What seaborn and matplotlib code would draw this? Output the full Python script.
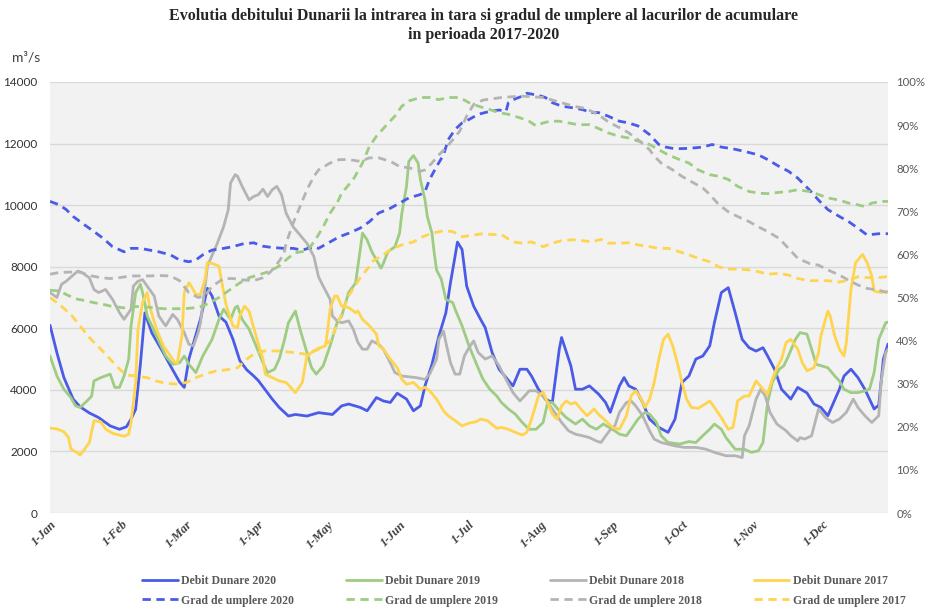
import matplotlib
matplotlib.use("Agg")
import matplotlib.pyplot as plt
import seaborn as sns
from matplotlib.ticker import FuncFormatter

# x axis: day of year (0 = 1-Jan)
month_days = [0, 31, 59, 90, 120, 151, 181, 212, 243, 273, 304, 334]
month_labels = ['1-Jan', '1-Feb', '1-Mar', '1-Apr', '1-May', '1-Jun',
                '1-Jul', '1-Aug', '1-Sep', '1-Oct', '1-Nov', '1-Dec']

# Debit Dunare (m3/s)
d2020_days = [0, 3, 6, 10, 13, 17, 21, 26, 30, 33, 35, 37, 39, 41, 44, 49, 53, 56, 58, 60, 65, 68, 70, 73, 76,
              79, 82, 85, 88, 90, 93, 96, 99, 103, 106, 111, 116, 122, 126, 129, 134, 137, 141, 144, 147, 150,
              154, 157, 160, 162, 165, 168, 171, 173, 175, 176, 178, 180, 183, 186, 188, 191, 194, 197, 200,
              203, 206, 208, 211, 214, 217, 220, 221, 225, 227, 230, 233, 237, 240, 242, 246, 248, 250, 253,
              256, 259, 263, 267, 270, 273, 276, 279, 282, 285, 287, 290, 293, 296, 299, 302, 305, 308, 310,
              313, 316, 320, 323, 327, 330, 333, 336, 341, 343, 346, 349, 352, 356, 358, 360, 362]
d2020_flow = [6100, 5200, 4400, 3700, 3450, 3250, 3100, 2830, 2720, 2800, 3050, 3370, 4800, 6500, 5850, 5200,
              4650, 4250, 4080, 5000, 6300, 7300, 7050, 6400, 6200, 5650, 4950, 4650, 4450, 4300, 4000, 3700,
              3430, 3150, 3200, 3150, 3260, 3200, 3480, 3540, 3430, 3320, 3750, 3640, 3590, 3890, 3700, 3320,
              3480, 4130, 4830, 5750, 6500, 7480, 8350, 8800, 8560, 7370, 6720, 6290, 6020, 5210, 4670, 4400,
              4130, 4670, 4670, 4450, 4020, 3700, 3590, 5320, 5700, 4780, 4020, 4020, 4130, 3860, 3590, 3270,
              4130, 4400, 4130, 4020, 3590, 3050, 2780, 2620, 3050, 4240, 4450, 5000, 5100, 5430, 6180, 7160,
              7320, 6500, 5640, 5370, 5260, 5370, 5100, 4670, 4020, 3700, 4080, 3900, 3540, 3430, 3160, 4020,
              4450, 4670, 4400, 4020, 3380, 3500, 5000, 5490]

d2019_days = [0, 3, 6, 9, 11, 13, 16, 18, 19, 22, 26, 28, 30, 32, 34, 35, 37, 39, 40, 42, 46, 50, 53, 56, 58,
              60, 63, 66, 70, 73, 75, 78, 80, 81, 83, 86, 89, 92, 94, 97, 99, 101, 103, 106, 108, 111, 113, 115,
              118, 121, 124, 126, 129, 132, 135, 137, 139, 141, 143, 144, 146, 147, 149, 151, 152, 154, 155,
              157, 159, 160, 162, 163, 165, 166, 167, 169, 171, 174, 175, 178, 181, 184, 187, 190, 193, 195,
              198, 201, 204, 207, 210, 213, 215, 217, 220, 223, 227, 230, 233, 236, 239, 243, 246, 249, 251,
              254, 257, 259, 262, 264, 267, 272, 276, 279, 282, 285, 287, 290, 292, 296, 300, 303, 306, 308,
              310, 312, 315, 317, 319, 322, 324, 327, 329, 331, 336, 339, 341, 343, 346, 349, 352, 354, 356,
              358, 361, 362]
d2019_flow = [5100, 4450, 4020, 3750, 3480, 3430, 3640, 3800, 4290, 4400, 4510, 4080, 4080, 4450, 5000, 6080,
              7160, 7430, 7160, 6400, 5750, 5100, 4830, 4880, 5100, 4830, 4560, 5100, 5640, 6290, 6620, 6290,
              6670, 6720, 6290, 5970, 5430, 4880, 4560, 4670, 5000, 5540, 6180, 6560, 5970, 5210, 4720, 4510,
              4780, 5430, 6180, 6400, 7160, 7470, 9090, 8870, 8490, 8220, 7950, 8110, 8490, 8540, 8650, 9090,
              9740, 10610, 11420, 11610, 11370, 10830, 10170, 9630, 9090, 8430, 7890, 7600, 6940, 6830, 6620,
              6080, 5430, 4880, 4350, 4020, 3800, 3590, 3380, 3210, 2940, 2720, 2720, 2940, 3590, 3590, 3320,
              3100, 2890, 3050, 2830, 2720, 2890, 2720, 2560, 2510, 2720, 3050, 3270, 3210, 2940, 2510, 2290,
              2240, 2320, 2290, 2510, 2720, 2890, 2720, 2450, 2070, 2070, 1970, 2020, 2290, 3590, 4240, 4670,
              4780, 5100, 5640, 5860, 5810, 5320, 4830, 4720, 4450, 4290, 4020, 3910, 3910, 3970, 4020, 4560,
              5640, 6180, 6200]

d2018_days = [0, 3, 5, 7, 12, 14, 17, 19, 21, 24, 27, 30, 32, 35, 36, 38, 40, 42, 45, 47, 49, 50, 53, 55, 58,
              60, 62, 64, 65, 67, 68, 72, 75, 77, 78, 80, 81, 83, 86, 88, 90, 92, 94, 96, 98, 100, 102, 105,
              108, 111, 114, 116, 118, 121, 122, 124, 126, 129, 131, 133, 135, 137, 139, 142, 144, 147, 149,
              152, 158, 162, 164, 167, 168, 170, 171, 173, 175, 177, 179, 181, 183, 185, 188, 191, 194, 197,
              200, 203, 205, 207, 210, 213, 216, 218, 221, 224, 227, 230, 233, 236, 238, 240, 242, 244, 246,
              249, 251, 253, 256, 259, 261, 264, 270, 274, 279, 283, 287, 292, 296, 299, 300, 302, 305, 307,
              309, 311, 314, 318, 320, 323, 324, 326, 329, 332, 335, 338, 341, 344, 347, 349, 352, 355, 358,
              359, 361, 362]
d2018_flow = [7160, 7000, 7430, 7530, 7860, 7800, 7640, 7260, 7160, 7260, 6940, 6510, 6290, 6620, 7370, 7530,
              7580, 7370, 7050, 6400, 6180, 6080, 6450, 6290, 5860, 5480, 5430, 5860, 6180, 7370, 8020, 8710,
              9300, 9850, 10720, 10990, 10940, 10610, 10170, 10280, 10340, 10520, 10280, 10500, 10610, 10340,
              9740, 9300, 9030, 8760, 8330, 7670, 7370, 6940, 6400, 6240, 6180, 6240, 5970, 5540, 5320, 5320,
              5590, 5480, 5320, 4880, 4560, 4450, 4400, 4340, 4510, 5000, 5640, 5910, 5540, 4880, 4510, 4510,
              5100, 5370, 5590, 5210, 5000, 5100, 4780, 4340, 3910, 3640, 3800, 3970, 3970, 3800, 3480, 3270,
              2940, 2670, 2560, 2510, 2450, 2340, 2290, 2500, 2700, 2830, 3270, 3590, 3640, 3480, 3160, 2670,
              2400, 2290, 2180, 2130, 2130, 2080, 1970, 1860, 1860, 1800, 2510, 2830, 3700, 4020, 3800, 3270,
              2890, 2670, 2510, 2340, 2450, 2400, 2510, 3380, 3100, 2940, 3050, 3270, 3700, 3430, 3160, 2940,
              3160, 4240, 5210, 5320]

d2017_days = [0, 3, 6, 8, 9, 12, 13, 15, 17, 19, 22, 24, 27, 30, 32, 34, 35, 37, 38, 40, 42, 43, 46, 49, 52,
              54, 55, 57, 58, 60, 61, 63, 65, 67, 68, 70, 73, 74, 76, 79, 81, 82, 84, 86, 89, 92, 93, 96, 99,
              102, 104, 106, 109, 111, 114, 116, 119, 120, 121, 123, 124, 126, 129, 132, 133, 135, 138, 141,
              142, 144, 147, 150, 152, 154, 157, 160, 162, 164, 167, 170, 172, 175, 178, 181, 184, 186, 189,
              193, 195, 198, 201, 204, 206, 208, 211, 213, 215, 217, 219, 221, 223, 225, 227, 230, 232, 235,
              237, 240, 243, 246, 249, 251, 253, 255, 257, 259, 261, 263, 265, 267, 269, 271, 273, 275, 277,
              280, 283, 285, 287, 290, 293, 295, 296, 297, 300, 302, 304, 305, 308, 310, 312, 314, 316, 318,
              320, 323, 325, 327, 330, 332, 333, 336, 337, 339, 341, 343, 344, 346, 348, 351, 353, 355, 356,
              359, 362]
d2017_flow = [2760, 2730, 2640, 2450, 2080, 1950, 1880, 2080, 2290, 3000, 2960, 2730, 2590, 2530, 2490, 2560,
              2940, 4240, 5970, 6830, 7160, 6720, 5970, 5430, 5100, 4880, 4880, 5750, 7160, 7480, 7370, 7100,
              7100, 7590, 8130, 8110, 8020, 7590, 6780, 6080, 6020, 6400, 6720, 6560, 5750, 5000, 4510, 4400,
              4290, 4240, 4080, 3910, 4240, 5100, 5270, 5350, 5430, 5970, 6620, 7050, 7050, 6720, 6670, 6510,
              6560, 6290, 6080, 5810, 5430, 5320, 5000, 4720, 4340, 4180, 4240, 4020, 4080, 3970, 3700, 3320,
              3160, 3000, 2830, 2920, 2960, 3050, 3000, 2750, 2780, 2720, 2620, 2530, 2620, 3050, 3800, 3930,
              3590, 3210, 3050, 3480, 3640, 3540, 3590, 3320, 3160, 3380, 3200, 3000, 2780, 2720, 3160, 3800,
              3970, 3750, 3430, 3700, 4240, 5000, 5640, 5810, 5430, 4880, 4240, 3700, 3430, 3400, 3540, 3640,
              3430, 3100, 2720, 2780, 3160, 3640, 3800, 3800, 4130, 4290, 4020, 3860, 4340, 4720, 5000, 5540,
              5640, 5320, 4880, 4620, 4720, 5210, 5750, 6560, 6400, 5750, 5320, 5100, 5540, 7260, 8130, 8400,
              8130, 7700, 7210, 7160, 7210]

# Grad de umplere (%)
g2020_days = [0, 4, 7, 10, 14, 19, 23, 27, 32, 35, 39, 43, 47, 52, 56, 60, 63, 66, 70, 75, 79, 83, 88, 92, 96,
              101, 105, 109, 114, 116, 121, 125, 129, 134, 138, 142, 147, 151, 155, 160, 162, 164, 167, 170,
              172, 175, 178, 181, 185, 190, 194, 197, 198, 201, 204, 206, 208, 211, 214, 217, 221, 226, 230,
              234, 237, 241, 246, 250, 254, 259, 263, 266, 270, 276, 282, 286, 290, 295, 300, 306, 310, 315,
              319, 323, 328, 332, 336, 341, 345, 349, 353, 358, 362]
g2020_pct = [72.3, 71.5, 70.4, 68.8, 67.2, 65.3, 63.7, 61.8, 60.6, 61.4, 61.4, 61.0, 60.6, 59.9, 58.7, 58.3,
             58.7, 59.9, 61.0, 61.4, 61.8, 62.4, 62.7, 61.9, 61.6, 61.4, 61.4, 61.0, 61.8, 61.4, 62.9, 64.1,
             64.9, 66.1, 67.6, 69.6, 70.7, 71.9, 73.1, 73.9, 74.6, 77.4, 80.4, 83.1, 86.6, 89.0, 90.5, 91.3,
             92.5, 93.2, 93.5, 93.2, 95.2, 96.1, 96.7, 97.4, 97.2, 96.9, 96.4, 95.2, 94.4, 94.0, 93.6, 92.9,
             92.9, 92.1, 90.9, 90.5, 89.8, 87.8, 85.5, 84.9, 84.5, 84.6, 84.9, 85.5, 84.9, 84.5, 83.9, 83.1,
             82.0, 80.4, 79.3, 77.7, 75.0, 72.6, 70.4, 68.8, 67.6, 66.1, 64.5, 64.8, 64.8]

g2019_days = [0, 4, 7, 11, 14, 19, 23, 27, 32, 36, 40, 45, 49, 53, 58, 62, 66, 69, 73, 78, 82, 86, 91, 95, 99,
              103, 106, 111, 112, 115, 118, 121, 124, 126, 131, 135, 138, 141, 145, 149, 152, 155, 160, 164,
              168, 172, 177, 181, 185, 190, 194, 198, 203, 207, 210, 213, 216, 220, 224, 228, 233, 237, 241,
              246, 250, 254, 259, 263, 267, 272, 276, 280, 285, 289, 293, 297, 302, 306, 310, 315, 319, 323,
              328, 332, 336, 341, 345, 349, 352, 355, 359, 362]
g2019_pct = [51.7, 51.5, 50.7, 49.7, 49.4, 48.8, 48.4, 47.9, 47.6, 47.9, 47.9, 47.6, 47.4, 47.4, 47.4, 47.6,
             48.0, 48.8, 50.0, 51.9, 53.4, 54.6, 55.4, 56.1, 57.3, 59.2, 60.4, 60.8, 61.4, 63.7, 66.4, 69.6,
             71.9, 74.2, 77.4, 81.2, 85.1, 87.4, 89.8, 92.1, 94.4, 95.6, 96.4, 96.4, 95.9, 96.4, 96.4, 95.2,
             94.4, 93.6, 92.9, 92.5, 91.7, 90.9, 89.8, 90.5, 90.9, 90.9, 90.5, 90.1, 90.1, 89.2, 88.2, 87.4,
             87.0, 86.3, 85.5, 84.3, 83.1, 82.0, 81.2, 79.6, 78.5, 78.1, 77.4, 75.8, 74.6, 74.2, 74.1, 74.4,
             74.6, 75.0, 74.6, 73.9, 73.1, 72.6, 71.9, 71.5, 71.1, 71.9, 72.3, 72.3]

g2018_days = [0, 4, 9, 13, 17, 22, 26, 30, 35, 39, 43, 47, 52, 56, 60, 64, 67, 70, 75, 79, 83, 88, 92, 95, 98,
              101, 102, 105, 108, 111, 114, 116, 121, 125, 129, 134, 138, 142, 147, 151, 155, 160, 162, 165,
              168, 171, 174, 177, 180, 183, 187, 191, 195, 200, 204, 208, 213, 217, 221, 226, 230, 234, 237,
              241, 246, 250, 254, 259, 261, 264, 269, 273, 277, 282, 285, 289, 293, 297, 302, 306, 310, 315,
              319, 323, 328, 332, 336, 341, 345, 349, 353, 358, 362]
g2018_pct = [55.4, 55.8, 55.9, 55.9, 55.1, 54.6, 54.4, 54.6, 55.0, 55.0, 55.0, 55.1, 55.0, 53.9, 51.1, 50.0,
             50.4, 52.6, 54.4, 54.4, 54.1, 53.9, 54.6, 55.8, 57.7, 60.0, 62.6, 67.2, 71.1, 75.0, 78.1, 79.6,
             81.2, 82.0, 82.0, 81.6, 82.4, 82.4, 81.6, 80.4, 80.1, 79.3, 79.6, 81.2, 83.1, 84.7, 86.6, 88.6,
             92.1, 94.8, 95.8, 96.1, 96.4, 96.6, 96.7, 96.6, 96.4, 95.8, 95.2, 94.4, 94.0, 93.2, 92.4, 90.8,
             89.4, 88.2, 86.6, 84.3, 82.8, 81.2, 79.6, 78.1, 76.9, 75.4, 73.9, 71.5, 69.9, 68.8, 67.6, 66.4,
             65.3, 63.7, 61.4, 59.1, 57.9, 57.5, 56.4, 55.2, 54.0, 52.9, 52.1, 51.7, 51.1]

g2017_days = [0, 4, 9, 13, 17, 22, 26, 30, 33, 37, 42, 46, 50, 55, 59, 63, 68, 72, 76, 81, 85, 89, 93, 98, 102,
              106, 111, 116, 121, 125, 129, 134, 138, 139, 144, 148, 152, 157, 161, 165, 170, 174, 178, 183,
              187, 191, 195, 200, 204, 208, 213, 217, 221, 226, 230, 234, 238, 241, 246, 250, 254, 259, 263,
              267, 272, 276, 280, 285, 289, 293, 297, 302, 306, 310, 315, 319, 323, 328, 332, 336, 341, 345,
              349, 353, 358, 362]
g2017_pct = [50.0, 48.4, 46.1, 43.4, 40.7, 38.0, 35.7, 33.4, 32.0, 31.8, 31.4, 30.6, 30.1, 29.9, 30.3, 31.4,
             32.4, 33.0, 33.2, 33.7, 35.7, 37.2, 37.6, 37.6, 37.4, 37.2, 36.8, 38.0, 39.9, 44.9, 50.4, 54.6,
             57.2, 58.3, 59.9, 61.4, 62.2, 62.9, 64.1, 64.9, 65.5, 65.3, 64.1, 64.5, 64.8, 64.6, 64.6, 62.9,
             62.6, 62.9, 61.8, 62.6, 63.2, 63.4, 63.2, 62.9, 63.5, 62.6, 62.6, 62.7, 62.2, 61.8, 61.4, 61.4,
             60.6, 59.9, 59.1, 58.3, 57.1, 56.6, 56.6, 56.4, 56.0, 55.4, 55.6, 55.2, 54.4, 53.9, 53.9, 53.9,
             53.6, 54.0, 54.8, 54.6, 54.6, 54.9]

blue = '#4A5BE8'
green = '#9DCC82'
grey = '#B4B4B4'
yellow = '#FFD44F'

sns.set_style("white")
plt.rcParams['font.family'] = ['Lato', 'DejaVu Sans']

fig = plt.figure(figsize=(9.26, 6.08), dpi=100)
ax = fig.add_axes([50 / 926, 95 / 608, 838 / 926, 431 / 608])
ax.set_facecolor('#F2F2F2')
ax2 = ax.twinx()

lw = 2.0
dash = (0, (3, 2))

flows = [(d2020_days, d2020_flow, blue, 'Debit Dunare 2020'),
         (d2019_days, d2019_flow, green, 'Debit Dunare 2019'),
         (d2018_days, d2018_flow, grey, 'Debit Dunare 2018'),
         (d2017_days, d2017_flow, yellow, 'Debit Dunare 2017')]
grads = [(g2020_days, g2020_pct, blue, 'Grad de umplere 2020'),
         (g2019_days, g2019_pct, green, 'Grad de umplere 2019'),
         (g2018_days, g2018_pct, grey, 'Grad de umplere 2018'),
         (g2017_days, g2017_pct, yellow, 'Grad de umplere 2017')]

for days, vals, col, lab in flows:
    sns.lineplot(x=days, y=vals, ax=ax, color=col, lw=lw, label=lab, legend=False)
for days, vals, col, lab in grads:
    sns.lineplot(x=days, y=vals, ax=ax2, color=col, lw=lw, linestyle=dash, label=lab, legend=False)

ax.set_xlim(0, 362)
ax.set_ylim(0, 14000)
ax.set_yticks(range(0, 14001, 2000))
ax2.set_ylim(0, 100)
ax2.set_yticks(range(0, 101, 10))
ax2.yaxis.set_major_formatter(FuncFormatter(lambda v, p: f'{int(v)}%'))

ax.grid(axis='y', color='#D9D9D9', lw=1)
ax.set_axisbelow(True)
ax2.grid(False)
for a in (ax, ax2):
    for s in a.spines.values():
        s.set_visible(False)
    a.set_xlabel('')
    a.set_ylabel('')

ax.tick_params(axis='y', length=0, pad=9, labelsize=8.5, labelcolor='#333333')
ax2.tick_params(axis='y', length=0, pad=6, labelsize=8.2, labelcolor='#595959')
ax.set_xticks(month_days)
ax.set_xticklabels(month_labels, rotation=45, ha='right', rotation_mode='anchor',
                   family='Liberation Serif', fontweight='bold', fontstyle='italic',
                   fontsize=9, color='#404040')
ax.tick_params(axis='x', length=0, pad=4)

fig.text(484 / 926, 1 - 8 / 608,
         'Evolutia debitului Dunarii la intrarea in tara si gradul de umplere al lacurilor de acumulare\nin perioada 2017-2020',
         ha='center', va='top', family='Liberation Serif', fontweight='bold', fontsize=11.5,
         linespacing=1.25)
fig.text(12 / 926, 1 - 57 / 608, 'm³/s', ha='left', va='center', fontsize=10, color='#404040')

lines1 = ax.get_lines()
lines2 = ax2.get_lines()
handles = []
for a, b in zip(lines1, lines2):
    handles += [a, b]
fig.legend(handles=handles, labels=[h.get_label() for h in handles], ncol=4, loc='center',
           bbox_to_anchor=(524 / 926, 1 - 591 / 608), frameon=False,
           prop={'family': 'Liberation Serif', 'weight': 'bold', 'size': 8.5},
           labelcolor='#595959', handlelength=3.0, handletextpad=0.3,
           columnspacing=4.4, labelspacing=0.6)

fig.savefig('out.png', dpi=100)
